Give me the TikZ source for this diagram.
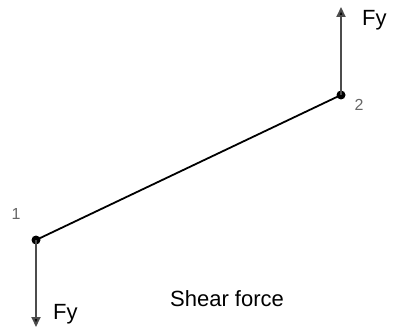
\documentclass[tikz,border=0pt]{standalone}
\usepackage{fontspec}
\setmainfont{Liberation Sans}
\usetikzlibrary{arrows.meta}
\begin{document}
\begin{tikzpicture}[x=1pt,y=-1pt,
  joint/.style={circle,fill=black,inner sep=0pt,minimum size=9pt},
  force/.style={draw=black!70,line width=2pt,-{Triangle[length=10pt,width=9pt,fill=black]}},
  member/.style={draw=black,line width=1.8pt},
  lbl/.style={font=\fontsize{22}{25}\selectfont,inner sep=0pt},
  num/.style={font=\fontsize{16}{19}\selectfont,text=black!60,inner sep=0pt}]
\useasboundingbox (0,0) rectangle (395,328);
\node[joint] (n1) at (36,240) {};
\node[joint] (n2) at (341,95) {};
\coordinate (t2) at (341,7);
\coordinate (t1) at (36,327);
\draw[member] (n1.center) -- (n2.center);
\draw[force] (n2.center) -- (t2);
\draw[force] (n1.center) -- (t1);
\node[num] (l1) at (16,214) {1};
\node[num] (l2) at (359,105) {2};
\node[lbl,anchor=west] (f2) at (362,20) {Fy};
\node[lbl,anchor=west] (f1) at (53,314) {Fy};
\node[lbl] (sf) at (227,299) {Shear force};
\end{tikzpicture}
\end{document}
